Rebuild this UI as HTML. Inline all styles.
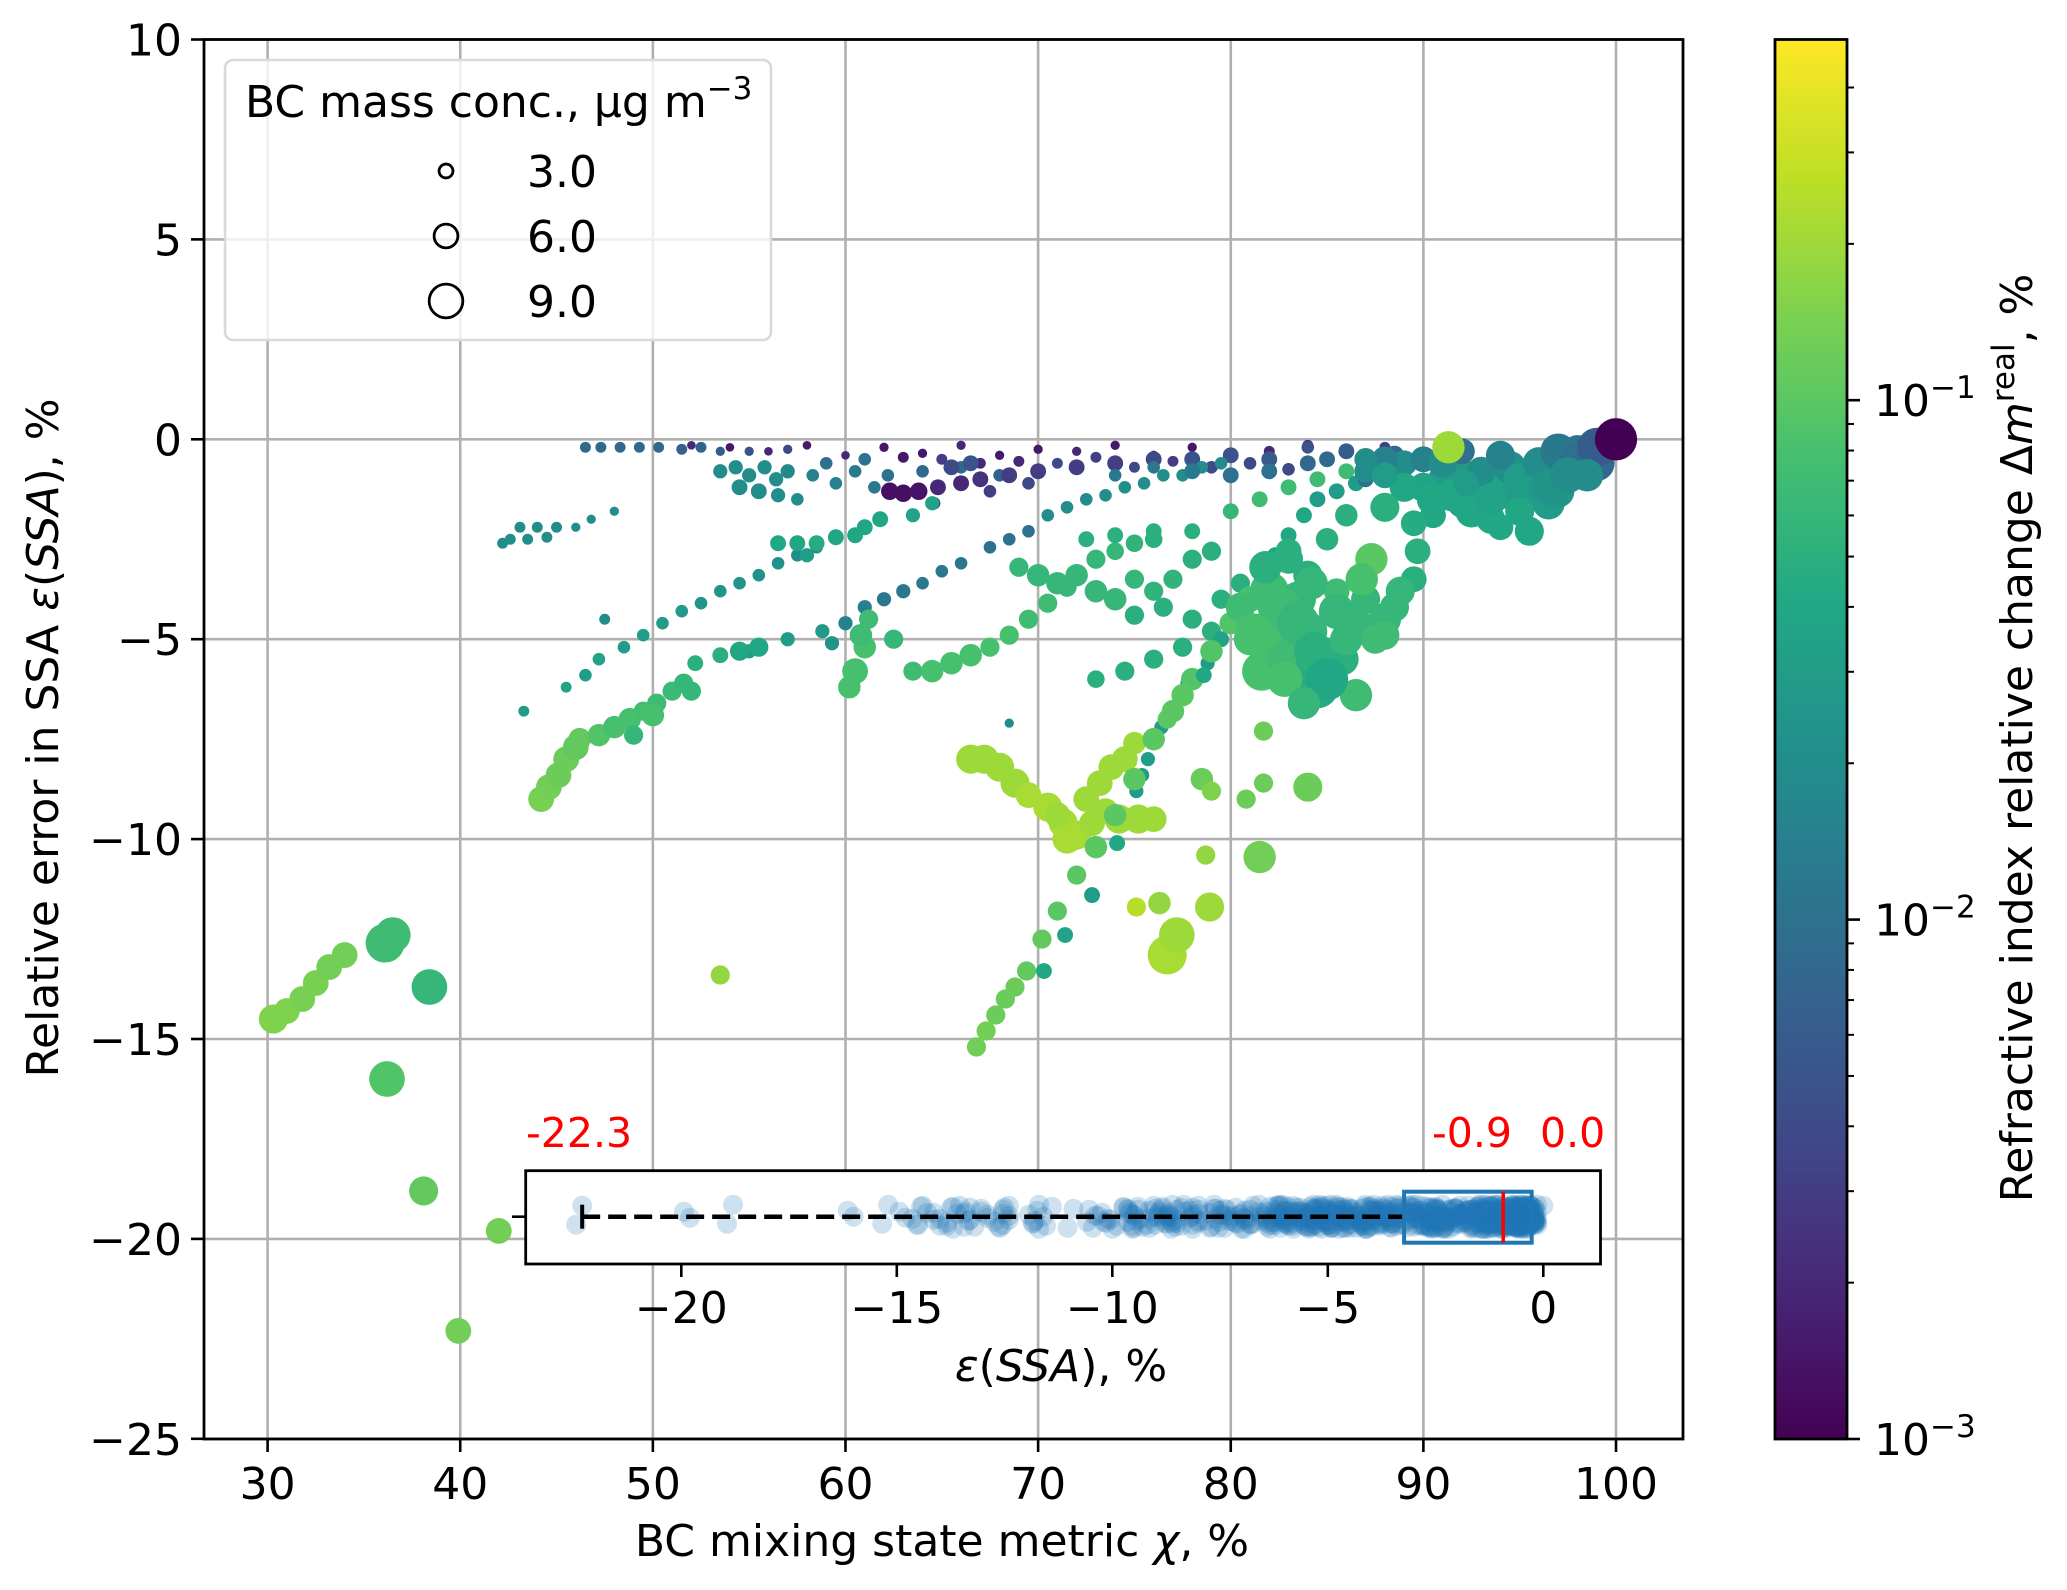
<!DOCTYPE html>
<html><head><meta charset="utf-8"><title>SSA error vs mixing state</title>
<style>
html,body{margin:0;padding:0;background:#fff;}
svg{display:block;font-family:"DejaVu Sans","Liberation Sans",sans-serif;}
</style></head>
<body>
<svg id="fig" width="2067" height="1590" viewBox="0 0 2067 1590" xmlns="http://www.w3.org/2000/svg">
<rect width="2067" height="1590" fill="#fff"/>
<g id="grid"></g>
<g id="marks"></g>
<g id="axes"></g>
<g id="legend"></g>
<g id="inset"></g>
<g id="cbar"></g>
</svg>
<script>
// ---- data ----
const chi = [
52,54,56,58,60,62,64,66,68,70,72,74,76,78,80,82,84,86,88,63,65,67,69,71,73,75,77,79,81,83,
46.5,47.3,48.3,49.3,50.3,51.5,52.5,53.5,55,57,
53.5,54.3,55,55.8,56.4,57,54.5,55.5,56.5,58.3,59.5,60.5,61.5,62.2,57.5,59,61,64,66,68,
62.3,63,63.8,64.8,66,67,68.5,70,72,74,65.5,66.5,64.6,67.5,69.5,76,78,80,82,84,
42.2,42.6,43.1,43.5,44,44.5,45,46,46.8,48,
43.3,45.5,46.5,47.2,48.5,49.5,50.5,51.5,52.5,53.5,54.5,55.5,56.5,57.5,58.5,47.5,55,57,58.8,59.3,
60,61,62,63,64,65,66,67.5,68.5,69.5,70.5,71.5,72.5,73.5,74.5,75.5,76.5,77.5,78.5,79.5,
56.5,57.5,58.5,59.5,60.5,61,61.8,58,63.5,64.5,
44.2,44.6,45.1,45.5,46,46.2,47.2,48,48.8,49.5,50.2,51,51.6,52.2,53.5,54.5,55.5,50,49,52,
60.2,60.5,61,61.2,60.8,62.5,63.5,64.5,65.5,66.5,67.5,68.5,69.5,70.5,71.5,72,73,74,75,76,
69,70,71,72,73,74,75,76,77,78,79,75,76.5,78,79.5,80.5,72.5,74,76,78,77.5,76,74.5,73,79,80,81.5,83,84.5,86,
66.5,67.2,68,68.8,69.5,70.5,71.3,72,72.8,73.5,74.2,75.2,76,71.5,72.5,73.2,73.8,74.5,75,71,
75.1,75.4,75.7,76,76.4,76.8,77.3,78,78.8,79.5,80.2,81,81.7,82.3,83,83.8,77.8,84.5,85.5,86.5,
66.8,67.3,67.8,68.3,68.8,69.4,70.2,71,72,73,74,75,76,77,78,79,80,81,76.7,77.5,
82,82.5,82.2,81.6,83,84,84.5,84.5,85,83.5,86.5,87.3,86.5,88,88.5,87.5,89.5,89.7,85.5,81.8,83,84,80.5,81,85.8,
84,81.5,78.7,78.9,76.3,75.1,76.7,77.2,74.1,72.8,71.4,70.3,81.7,80.8,81.7,78.5,79,78.6,68.5,53.5,
30.3,31,31.8,32.5,33.2,34,36.1,36.5,38.4,36.2,38.1,42,39.9,
84,85,86,87,88.5,82,80,78,76,74,
92,93,94,95,96,97,98,93.5,95.5,96.5,91,92,94.5,97,98,99,90,89,88,87,
82.5,83.5,84.3,85,81.2,82.8,83.8,86,87,88.8,84.2,83,85.5,88,86.8,
90,91,92,93,94,95,96,97,98,99,91.5,92.5,93.5,95,89,88,87,91.3,96.5,97.5,90.5,89.5,86,85,98.5,94,88,90.5,92.2,100
];
const eps = [
-0.15,-0.2,-0.3,-0.15,-0.4,-0.2,-0.35,-0.15,-0.4,-0.25,-0.3,-0.15,-0.4,-0.2,-0.45,-0.3,-0.15,-0.35,-0.2,-0.45,-0.5,-0.6,-0.55,-0.6,-0.45,-0.7,-0.55,-0.7,-0.6,-0.75,
-0.2,-0.2,-0.2,-0.2,-0.2,-0.25,-0.2,-0.3,-0.3,-0.25,
-0.8,-0.7,-0.9,-0.7,-1.0,-0.8,-1.2,-1.3,-1.4,-0.9,-1.1,-0.8,-1.2,-0.9,-1.5,-0.6,-0.5,-0.8,-0.7,-0.9,
-1.3,-1.35,-1.3,-1.2,-1.1,-1.0,-0.9,-0.8,-0.7,-0.6,-0.7,-0.6,-1.6,-1.3,-1.1,-0.5,-0.5,-0.4,-0.5,-0.6,
-2.6,-2.5,-2.2,-2.5,-2.2,-2.45,-2.2,-2.2,-2.0,-1.8,
-6.8,-6.2,-5.9,-5.5,-5.2,-4.9,-4.6,-4.3,-4.1,-3.8,-3.6,-3.4,-3.1,-2.9,-2.7,-4.5,-5.3,-5.0,-4.8,-5.1,
-4.6,-4.2,-4.0,-3.8,-3.6,-3.3,-3.1,-2.7,-2.5,-2.3,-1.9,-1.7,-1.5,-1.4,-1.2,-1.1,-0.9,-0.9,-0.7,-0.6,
-2.6,-2.6,-2.6,-2.45,-2.4,-2.2,-2.0,-2.9,-1.9,-1.6,
-9.0,-8.7,-8.4,-8.0,-7.7,-7.5,-7.4,-7.2,-7.0,-6.8,-6.6,-6.3,-6.1,-5.6,-5.4,-5.3,-5.2,-6.9,-7.4,-6.3,
-6.2,-5.8,-5.2,-4.5,-4.9,-5.0,-5.8,-5.8,-5.6,-5.4,-5.2,-4.9,-4.5,-4.1,-3.7,-3.4,-3.0,-2.8,-2.6,-2.5,
-3.2,-3.4,-3.6,-3.4,-3.8,-4.0,-3.5,-3.8,-3.5,-3.0,-2.8,-4.4,-4.2,-4.5,-4.0,-3.6,-2.5,-2.4,-2.3,-2.3,-5.2,-5.5,-5.8,-6.0,-4.8,-1.8,-1.5,-1.2,-1.0,-0.8,
-8.0,-8.0,-8.2,-8.6,-8.9,-9.2,-9.6,-9.9,-9.6,-9.3,-9.5,-9.5,-9.5,-10.0,-9.0,-8.6,-8.2,-8.0,-7.6,-9.4,
-8.8,-8.4,-8.0,-7.6,-7.2,-6.8,-6.4,-6.0,-5.6,-5.0,-4.5,-3.9,-3.4,-2.9,-2.4,-1.9,-6.1,-1.5,-1.3,-1.1,
-15.2,-14.8,-14.4,-14.0,-13.7,-13.3,-12.5,-11.8,-10.9,-10.2,-9.4,-8.5,-7.5,-6.8,-6.0,-5.3,-4.6,-4.0,-7.0,-6.4,
-3.8,-4.5,-5.2,-5.8,-5.5,-4.8,-5.6,-6.2,-5.4,-4.0,-6.4,-3.0,-4.6,-4.5,-4.2,-5.0,-3.5,-2.8,-3.8,-3.2,-2.8,-3.4,-4.2,-5.0,-5.5,
-8.7,-10.45,-10.4,-11.7,-11.6,-11.7,-12.9,-12.4,-10.1,-11.4,-12.4,-13.3,-7.3,-9.0,-8.6,-8.5,-8.8,-5.9,-7.1,-13.4,
-14.5,-14.3,-14.0,-13.6,-13.2,-12.9,-12.6,-12.4,-13.7,-16.0,-18.8,-19.8,-22.3,
-0.2,-0.5,-0.3,-1.0,-0.4,-0.8,-0.9,-0.8,-0.7,-0.9,
-0.9,-1.1,-1.3,-1.4,-0.9,-0.6,-0.7,-2.0,-2.3,-1.6,-1.0,-1.6,-0.7,-1.3,-0.3,-0.6,-1.2,-0.6,-0.5,-0.8,
-4.2,-4.6,-5.3,-6.0,-4.8,-6.0,-6.6,-5.0,-4.0,-3.8,-3.6,-3.0,-4.3,-4.9,-3.5,
-0.5,-0.6,-0.3,-0.8,-0.4,-1.0,-0.6,-0.3,-0.5,-0.2,-1.4,-1.8,-1.5,-1.8,-1.2,-0.9,-0.5,-0.2,-1.2,-0.9,-1.9,-2.1,-1.9,-2.5,-0.9,-2.2,-1.7,-1.5,-1.1,0
];
const conc = [
0.8,0.8,0.8,0.8,0.8,1,1,1,1,1,1,1,1,1,1.5,1.5,1.5,1.5,1.5,1.5,1.5,1.5,1.5,1.5,1.5,1.5,1.5,2,2,2,
1.5,1.5,1.5,1.5,1.5,1.5,1.5,1,1,1,
2.5,2.5,2.5,2.5,2.5,2.5,3,3,2.5,2,2,2,2,2,2,2,2,2,2,2,
3.5,3.5,3.5,3,3,3,3,3,3,3,3,3,2,2,2,3,3,3,3,3,
1.5,1.5,1.5,1.5,1.5,1.5,1.5,1,1,1,
1.5,1.5,2,2,2,2,2,2,2,2,2,2,2,2,2,1.5,2.5,2.5,2.5,2.5,
2.5,2.5,2.5,2.5,2,2,2,2,2,2,2,2,2,2,2,2,2,2,2,2,
3,3,3,3,3,3,3,2.5,2.5,2.5,
6,6,6,6,6,5,5,5,5,4,4,4,4,3,3,4,4,5,4,4,
5,6,5,4,5,4,4,5,5,5,4,4,4,4,4,4,4,3.5,3.5,3.5,
4,5,5,5,5,5,4,4,4,4,4,4,4,4,4,4,3,3,3,3,4,4,4,3.5,4,3,3,3,3,3,
7,7,7,7,6,7,7,7,6,6,7,7,6,7,6,6,6,6,5,6,
2.5,2.5,2.5,2.5,2.5,2.5,2.5,2.5,2.5,3,3,3,3,3,3,3,3,3,3,3,
4,4,4,4,4,4,4,4,4,5,5,5,5,5,5,5,5,6,4,5,
10,11,11,10,11,10,11,11,9,9,8,8,8,8,7,7,6,6,6,8,6,7,7,8,8,
7,8,4,7,5,4,10,9,3,3,3,3,4,4,4,5,4,3,1,4,
7,6,6,6,6,6,10,9,9,9,7,6,6,
2,3,3,3,4,3,3,3,2,2,
8,9,9,10,9,9,9,7,7,8,7,7,8,8,8,9,7,6,6,5,
11,11,10,11,9,9,8,8,7,7,8,7,9,7,8,
6,7,6,7,7,8,8,9,9,10,8,8,8,7,7,6,5,8,9,9,6,6,5,5,8,6,7,8,6,11
];
const dm = [
.002,.0015,.002,.0015,.002,.0015,.0015,.002,.0015,.0015,.002,.0015,.002,.0015,.0015,.002,.002,.003,.003,.0015,.003,.002,.002,.004,.003,.004,.003,.004,.004,.004,
.008,.008,.008,.008,.008,.007,.007,.006,.005,.004,
.02,.02,.02,.02,.02,.018,.02,.02,.02,.015,.015,.012,.012,.01,.02,.01,.01,.008,.008,.007,
.0013,.0013,.0014,.002,.002,.0025,.003,.003,.003,.003,.004,.005,.003,.003,.004,.004,.005,.005,.006,.008,
.02,.02,.02,.02,.02,.02,.02,.02,.02,.02,
.03,.035,.03,.035,.03,.03,.03,.028,.025,.025,.025,.022,.022,.02,.02,.02,.03,.03,.028,.025,
.015,.015,.012,.012,.012,.012,.012,.01,.01,.01,.02,.02,.02,.02,.02,.02,.02,.02,.02,.02,
.04,.04,.045,.04,.04,.04,.04,.03,.035,.035,
.14,.13,.12,.12,.11,.11,.09,.08,.08,.075,.07,.065,.06,.05,.05,.04,.04,.08,.06,.06,
.08,.08,.08,.07,.07,.06,.07,.08,.08,.08,.08,.08,.07,.07,.06,.06,.06,.06,.055,.05,
.06,.06,.06,.06,.06,.06,.06,.055,.055,.05,.05,.05,.05,.05,.05,.05,.05,.05,.05,.05,.05,.05,.05,.05,.05,.06,.07,.07,.07,.07,
.2,.2,.2,.2,.22,.22,.22,.22,.2,.2,.2,.2,.2,.22,.2,.2,.2,.2,.2,.2,
.03,.03,.03,.03,.03,.03,.03,.03,.03,.035,.035,.035,.04,.04,.04,.04,.015,.03,.03,.03,
.13,.13,.12,.12,.12,.11,.11,.1,.1,.1,.1,.1,.1,.1,.09,.09,.09,.08,.1,.1,
.07,.07,.08,.08,.07,.06,.05,.045,.055,.06,.07,.1,.06,.06,.06,.07,.05,.05,.07,.05,.05,.05,.07,.08,.05,
.12,.13,.18,.2,.18,.25,.22,.2,.04,.03,.035,.04,.12,.12,.12,.12,.15,.04,.02,.18,
.15,.15,.14,.14,.13,.13,.07,.07,.06,.09,.11,.13,.13,
.005,.008,.006,.01,.008,.01,.01,.012,.012,.012,
.03,.03,.035,.03,.025,.02,.02,.04,.04,.03,.03,.035,.02,.025,.01,.008,.035,.02,.015,.02,
.07,.06,.05,.04,.08,.08,.06,.06,.06,.06,.06,.05,.06,.07,.08,
.015,.02,.01,.02,.015,.03,.02,.012,.01,.006,.04,.04,.035,.04,.04,.03,.02,.2,.025,.02,.04,.045,.05,.05,.02,.04,.05,.04,.03,.001
];
const xTicks = [30,40,50,60,70,80,90,100];
const yTicks = [10,5,0,-5,-10,-15,-20,-25];
const yTickLabels = ["10","5","0","\u22125","\u221210","\u221215","\u221220","\u221225"];
const legendConc = [3.0,6.0,9.0];
const legendLabels = ["3.0","6.0","9.0"];
const cbarExp = [-3,-2,-1];
const insetTicks = [-20,-15,-10,-5,0];
const insetTickLabels = ["\u221220","\u221215","\u221210","\u22125","0"];
const boxStats = [-22.3,-3.23,-0.93,-0.27,0.0]; // min, q1, median, q3, max
const boxLabels = ["-22.3","-0.9","0.0"];

// ---- scales ----
const PL=204, PR=1683, PT=39.5, PB=1439;
const X = v => 267.6 + (v-30)*19.263;
const Y = v => PT + (10-v)*39.98;
const CBL=1775, CBR=1847;
const CY = lg => PB - (lg+3)*519.4;
const IX = v => 1543.3 + v*43.1;
const ICY = 1216.7;
const R = c => 3 + 1.65*c;
const vstops=[[68,1,84],[72,36,117],[65,68,135],[53,95,141],[42,120,142],[33,145,140],[34,168,132],[68,191,112],[122,209,81],[189,223,38],[253,231,37]];
function viridis(t){t=Math.max(0,Math.min(1,t));const p=t*10,i=Math.min(9,Math.floor(p)),f=p-i;const a=vstops[i],b=vstops[i+1];
return `rgb(${Math.round(a[0]+(b[0]-a[0])*f)},${Math.round(a[1]+(b[1]-a[1])*f)},${Math.round(a[2]+(b[2]-a[2])*f)})`;}
const CTOP = Math.log10(0.495);
const colorOf = d => viridis((Math.log10(d)+3)/(CTOP+3));

const NS="http://www.w3.org/2000/svg";
function mk(parent,tag,attrs,text){const e=document.createElementNS(NS,tag);for(const k in attrs)e.setAttribute(k,attrs[k]);if(text!==undefined)e.textContent=text;parent.appendChild(e);return e;}
const gGrid=document.getElementById('grid'),gMarks=document.getElementById('marks'),gAxes=document.getElementById('axes'),gLeg=document.getElementById('legend'),gIn=document.getElementById('inset'),gCb=document.getElementById('cbar');

// grid
xTicks.forEach(t=>{const l=mk(gGrid,'line',{x1:X(t),x2:X(t),y1:PT,y2:PB,stroke:'#b0b0b0','stroke-width':2.6});

});
yTicks.forEach(t=>{const l=mk(gGrid,'line',{x1:PL,x2:PR,y1:Y(t),y2:Y(t),stroke:'#b0b0b0','stroke-width':2.6});

});

// scatter
const n=Math.min(chi.length,eps.length,conc.length,dm.length);
const clip=mk(gMarks,'clipPath',{id:'pc'});mk(clip,'rect',{x:PL,y:PT,width:PR-PL,height:PB-PT});
gMarks.setAttribute('clip-path','url(#pc)');
for(let i=0;i<n;i++){const c=mk(gMarks,'circle',{cx:X(chi[i]),cy:Y(eps[i]),r:R(conc[i]),fill:colorOf(dm[i])});

}

// axes frame & ticks
const fr=mk(gAxes,'rect',{x:PL,y:PT,width:PR-PL,height:PB-PT,fill:'none',stroke:'#000','stroke-width':2.8});


xTicks.forEach(t=>{mk(gAxes,'line',{x1:X(t),x2:X(t),y1:PB,y2:PB+13,stroke:'#000','stroke-width':2.6});
const tx=mk(gAxes,'text',{x:X(t),y:PB+60,'font-size':44,'text-anchor':'middle'},String(t));

});
yTicks.forEach((t,i)=>{mk(gAxes,'line',{x1:PL-13,x2:PL,y1:Y(t),y2:Y(t),stroke:'#000','stroke-width':2.6});
const tx=mk(gAxes,'text',{x:PL-22,y:Y(t)+16,'font-size':44,'text-anchor':'end'},yTickLabels[i]);

});
const xl=mk(gAxes,'text',{x:942,y:1556,'font-size':44,'text-anchor':'middle'});


xl.innerHTML='BC mixing state metric <tspan font-style="italic">χ</tspan>, %';
const yl=mk(gAxes,'text',{x:0,y:0,'font-size':44,'text-anchor':'middle',transform:'translate(58,738) rotate(-90)'});


yl.innerHTML='Relative error in SSA <tspan font-style="italic">ε</tspan>(<tspan font-style="italic">SSA</tspan>), %';

// legend
const lb=mk(gLeg,'rect',{x:225,y:60,width:546,height:280,rx:8,fill:'#fff','fill-opacity':0.8,stroke:'#d9d9d9','stroke-width':2.6});


const lt=mk(gLeg,'text',{x:245,y:117,'font-size':44});


lt.innerHTML='BC mass conc., µg m<tspan dy="-18" font-size="31">−3</tspan>';
legendConc.forEach((c,i)=>{const y=171+i*65;
const m=mk(gLeg,'circle',{cx:446,cy:y,r:R(c)-1,fill:'none',stroke:'#000','stroke-width':2.8});


const t=mk(gLeg,'text',{x:527,y:y+16,'font-size':44},legendLabels[i]);

});

// inset
const ib=mk(gIn,'rect',{x:525.7,y:1170.7,width:1074.8,height:93.3,fill:'#fff',stroke:'#000','stroke-width':2.8});


mk(gIn,'line',{x1:512,x2:525.7,y1:ICY,y2:ICY,stroke:'#000','stroke-width':2.6});
for(let i=0;i<n;i++){for(let k=0;k<2;k++){const jy=ICY+((((i*2+k)*7919)%25)-12);
const p=mk(gIn,'circle',{cx:IX(eps[i])+(k?-6:0),cy:jy,r:10,fill:'#1f77b4','fill-opacity':0.22});

}}
const wh=mk(gIn,'line',{x1:IX(boxStats[0]),x2:IX(boxStats[1]),y1:ICY,y2:ICY,stroke:'#000','stroke-width':4.5,'stroke-dasharray':'18 8'});


mk(gIn,'line',{x1:IX(boxStats[0]),x2:IX(boxStats[0]),y1:ICY-12,y2:ICY+12,stroke:'#000','stroke-width':4});
const bx=mk(gIn,'rect',{x:IX(boxStats[1]),y:1191.7,width:IX(boxStats[3])-IX(boxStats[1]),height:51,fill:'none',stroke:'#1f77b4','stroke-width':4});


const md=mk(gIn,'line',{x1:IX(boxStats[2]),x2:IX(boxStats[2]),y1:1191.7,y2:1242.7,stroke:'#ff0000','stroke-width':3.5});


insetTicks.forEach((t,i)=>{mk(gIn,'line',{x1:IX(t),x2:IX(t),y1:1264,y2:1277,stroke:'#000','stroke-width':2.6});
const tx=mk(gIn,'text',{x:IX(t),y:1323,'font-size':44,'text-anchor':'middle'},insetTickLabels[i]);

});
const ixl=mk(gIn,'text',{x:1061,y:1381,'font-size':44,'text-anchor':'middle'});


ixl.innerHTML='<tspan font-style="italic">ε</tspan>(<tspan font-style="italic">SSA</tspan>), %';
[[526,boxLabels[0]],[1432,boxLabels[1]],[1540,boxLabels[2]]].forEach(([x,s])=>{
const t=mk(gIn,'text',{x:x,y:1147,'font-size':41,fill:'#ff0000'},s);

});

// colorbar
const defs=mk(gCb,'defs',{});const lg=mk(defs,'linearGradient',{id:'vg',x1:0,y1:1,x2:0,y2:0});
for(let k=0;k<=20;k++)mk(lg,'stop',{offset:k/20,'stop-color':viridis(k/20)});
const cr=mk(gCb,'rect',{x:CBL,y:PT,width:CBR-CBL,height:PB-PT,fill:'url(#vg)',stroke:'#000','stroke-width':2.8});


cbarExp.forEach(e=>{const y=CY(e);mk(gCb,'line',{x1:CBR,x2:CBR+13,y1:y,y2:y,stroke:'#000','stroke-width':2.6});
const t=mk(gCb,'text',{x:1874,y:y+16,'font-size':44});


t.innerHTML='10<tspan dy="-18" font-size="31">−'+(-e)+'</tspan>';});
for(let e=-3;e<0;e++){for(let m=2;m<=9;m++){const lgv=e+Math.log10(m);if(lgv>CTOP)break;const y=CY(lgv);
mk(gCb,'line',{x1:CBR,x2:CBR+7,y1:y,y2:y,stroke:'#000','stroke-width':2});}}
const cl=mk(gCb,'text',{x:0,y:0,'font-size':44,'text-anchor':'middle',transform:'translate(2032,738) rotate(-90)'});


cl.innerHTML='Refractive index relative change Δ<tspan font-style="italic">m</tspan><tspan dy="-18" font-size="31">real</tspan><tspan dy="18">, %</tspan>';
</script>
</body></html>
